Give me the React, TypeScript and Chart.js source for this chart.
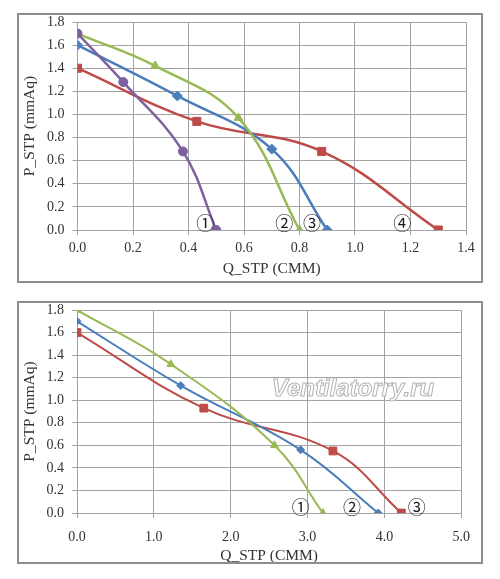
import React, { useEffect, useRef, CSSProperties } from "react";
import { Chart, registerables } from "chart.js";

Chart.register(...registerables);

// upper chart: four fans
const topQ1 = [0, 0.165, 0.38, 0.5];
const topP1 = [1.7, 1.28, 0.68, 0];
const topQ2 = [0, 0.28, 0.58, 0.8];
const topP2 = [1.7, 1.42, 0.97, 0];
const topQ3 = [0, 0.36, 0.7, 0.9];
const topP3 = [1.6, 1.16, 0.7, 0];
const topQ4 = [0, 0.43, 0.88, 1.3];
const topP4 = [1.4, 0.94, 0.68, 0];
const topMarks = ["①", "②", "③", "④"];
const topMarkQ = [0.46, 0.745, 0.845, 1.17];
const topMarkP = [0.06, 0.06, 0.06, 0.06];

// lower chart: three fans
const botQ1 = [0, 1.22, 2.57, 3.2];
const botP1 = [1.8, 1.32, 0.6, 0];
const botQ2 = [0, 1.35, 2.91, 3.92];
const botP2 = [1.7, 1.13, 0.56, 0];
const botQ3 = [0, 1.65, 3.33, 4.22];
const botP3 = [1.6, 0.93, 0.55, 0];
const botMarks = ["①", "②", "③"];
const botMarkQ = [2.91, 3.58, 4.42];
const botMarkP = [0.05, 0.05, 0.05];

const BLUE = "#4a7ebb";
const RED = "#be4b48";
const GREEN = "#98b954";
const PURPLE = "#7d60a0";

const SERIF = "'Liberation Serif', 'Times New Roman', serif";

type Series = {
  q: number[];
  p: number[];
  color: string;
  pointStyle: string;
  radius: number;
};

type CurveChartProps = {
  series: Series[];
  xMax: number;
  xStep: number;
  marks: string[];
  markQ: number[];
  markP: number[];
  lineWidth: number;
  yAxisWidth: number;
  xAxisHeight: number;
  padRight: number;
  padTop: number;
  xTickPadding: number;
  xTitlePadding: number;
  style: CSSProperties;
  children?: React.ReactNode;
};

const CurveChart = ({
  series,
  xMax,
  xStep,
  marks,
  markQ,
  markP,
  lineWidth,
  yAxisWidth,
  xAxisHeight,
  padRight,
  padTop,
  xTickPadding,
  xTitlePadding,
  style,
  children
}: CurveChartProps) => {
  const chartRef = useRef<HTMLCanvasElement>(null);

  useEffect(() => {
    if (!chartRef.current) return;
    const tickFont = { family: SERIF, size: 14 };
    const titleFont = { family: SERIF, size: 15.5 };
    const markPlugin = {
      id: "circledMarks",
      afterDatasetsDraw(chart: any) {
        const { ctx, scales } = chart;
        ctx.save();
        ctx.font = "18px 'Noto Sans CJK JP', 'DejaVu Sans', sans-serif";
        ctx.fillStyle = "#1a1a1a";
        ctx.textAlign = "center";
        ctx.textBaseline = "middle";
        marks.forEach((m, i) => {
          ctx.fillText(
            m,
            scales.x.getPixelForValue(markQ[i]),
            scales.y.getPixelForValue(markP[i])
          );
        });
        ctx.restore();
      }
    };
    const chart = new Chart(chartRef.current, {
      type: "scatter",
      data: {
        datasets: series.map((s) => ({
          data: s.q.map((q, i) => ({ x: q, y: s.p[i] })),
          showLine: true,
          tension: 0.4,
          borderColor: s.color,
          backgroundColor: s.color,
          pointBackgroundColor: s.color,
          pointBorderColor: s.color,
          pointBorderWidth: 1,
          pointStyle: s.pointStyle as any,
          pointRadius: s.radius,
          borderWidth: lineWidth
        }))
      },
      options: {
        animation: false,
        responsive: true,
        maintainAspectRatio: false,
        layout: { padding: { left: 0, right: padRight, top: padTop, bottom: 0 } },
        plugins: {
          legend: { display: false },
          tooltip: { enabled: false }
        },
        scales: {
          x: {
            type: "linear",
            min: 0,
            max: xMax,
            afterFit: (scale: any) => {
              scale.height = xAxisHeight;
            },
            ticks: {
              stepSize: xStep,
              color: "#333333",
              font: tickFont,
              padding: xTickPadding,
              maxRotation: 0,
              callback: (v: any) => Number(v).toFixed(1)
            },
            grid: { color: "#a3a3a3", tickLength: 5, lineWidth: 1 },
            border: { color: "#a3a3a3" },
            title: {
              display: true,
              text: "Q_STP (CMM)",
              color: "#333333",
              font: titleFont,
              padding: { top: 0, bottom: xTitlePadding }
            }
          },
          y: {
            type: "linear",
            min: 0,
            max: 1.8,
            afterFit: (scale: any) => {
              scale.width = yAxisWidth;
              scale.paddingTop = 0;
              scale.paddingBottom = 0;
            },
            ticks: {
              stepSize: 0.2,
              color: "#333333",
              font: tickFont,
              padding: 8,
              callback: (v: any) => Number(v).toFixed(1)
            },
            grid: { color: "#a3a3a3", tickLength: 5, lineWidth: 1 },
            border: { color: "#a3a3a3" },
            title: {
              display: true,
              text: "P_STP (mmAq)",
              color: "#333333",
              font: titleFont,
              padding: { top: 2, bottom: 0 }
            }
          }
        }
      },
      plugins: [markPlugin]
    });
    return () => {
      chart.destroy();
    };
  }, [chartRef, series, xMax, xStep, marks, markQ, markP]);

  return (
    <div style={{ ...style }}>
      <canvas ref={chartRef} aria-label="fan curve" style={{ width: "100%", height: "100%" }} />
      {children}
    </div>
  );
};

const boxStyle: CSSProperties = {
  position: "relative",
  boxSizing: "border-box",
  width: 466,
  border: "2px solid #8e8e8e",
  background: "#ffffff"
};

const topSeries: Series[] = [
  { q: topQ1, p: topP1, color: PURPLE, pointStyle: "circle", radius: 4.5 },
  { q: topQ2, p: topP2, color: GREEN, pointStyle: "triangle", radius: 5 },
  { q: topQ3, p: topP3, color: BLUE, pointStyle: "rectRot", radius: 5 },
  { q: topQ4, p: topP4, color: RED, pointStyle: "rect", radius: 5.7 }
];

const botSeries: Series[] = [
  { q: botQ1, p: botP1, color: GREEN, pointStyle: "triangle", radius: 4.5 },
  { q: botQ2, p: botP2, color: BLUE, pointStyle: "rectRot", radius: 4 },
  { q: botQ3, p: botP3, color: RED, pointStyle: "rect", radius: 5.5 }
];

const App = () => (
  <div style={{ paddingLeft: 9, paddingTop: 5 }}>
    <CurveChart
      series={topSeries}
      xMax={1.4}
      xStep={0.2}
      marks={topMarks}
      markQ={topMarkQ}
      markP={topMarkP}
      lineWidth={2.5}
      yAxisWidth={58.5}
      xAxisHeight={51}
      padRight={15}
      padTop={7}
      xTickPadding={5}
      xTitlePadding={3}
      style={{ ...boxStyle, height: 270 }}
    />
    <CurveChart
      series={botSeries}
      xMax={5}
      xStep={1}
      marks={botMarks}
      markQ={botMarkQ}
      markP={botMarkP}
      lineWidth={2}
      yAxisWidth={58}
      xAxisHeight={49}
      padRight={16}
      padTop={7}
      xTickPadding={11}
      xTitlePadding={-3}
      style={{ ...boxStyle, height: 263, marginTop: 18 }}
    >
      <div
        style={{
          position: "absolute",
          left: 334,
          top: 85,
          transform: "translate(-50%, -50%)",
          fontFamily: "'Liberation Sans', Arial, sans-serif",
          fontWeight: "bold",
          fontStyle: "italic",
          fontSize: 24,
          color: "#ffffff",
          WebkitTextStroke: "1px #b3b3b3",
          whiteSpace: "nowrap",
          pointerEvents: "none"
        }}
      >
        Ventilatorry.ru
      </div>
    </CurveChart>
  </div>
);

export default App;
